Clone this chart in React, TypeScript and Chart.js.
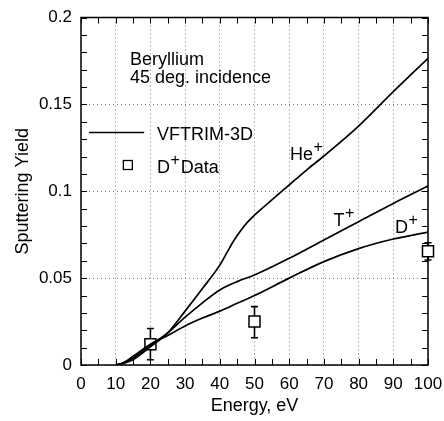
import React, { useEffect, useRef } from 'react';
import { Chart, registerables } from 'chart.js';
Chart.register(...registerables);

const energyHe = [10, 12, 15, 20, 25, 30, 35, 40, 42, 44, 46, 48, 50, 55, 60, 65, 70, 80, 90, 100];
const yieldHe = [0, 0.0008, 0.003, 0.0105, 0.0185, 0.031, 0.044, 0.0575, 0.0645, 0.0715, 0.0773, 0.0822, 0.0863, 0.095, 0.1036, 0.1122, 0.1203, 0.1375, 0.1573, 0.1765];
const energyT = [10, 12, 15, 20, 25, 30, 35, 40, 45, 50, 60, 70, 80, 90, 100];
const yieldT = [0, 0.001, 0.004, 0.0115, 0.0185, 0.0275, 0.0358, 0.0432, 0.048, 0.0518, 0.0614, 0.072, 0.0825, 0.093, 0.103];
const energyD = [10, 12, 15, 20, 25, 30, 35, 40, 45, 50, 60, 70, 80, 90, 100];
const yieldD = [0, 0.0012, 0.005, 0.012, 0.017, 0.0225, 0.027, 0.031, 0.0355, 0.040, 0.050, 0.0595, 0.067, 0.0725, 0.0765];
const dataEnergy = [20, 50, 100];
const dataYield = [0.012, 0.025, 0.0655];
const dataErrLow = [0.003, 0.0157, 0.0604];
const dataErrHigh = [0.021, 0.0336, 0.0704];

const xTickStep = 10;
const yTickStep = 0.05;
const xMinorStep = 5;
const yMinorStep = 0.01;

const FONT = "'Liberation Sans', Arial, Helvetica, sans-serif";

function pts(xs: number[], ys: number[]) {
  return xs.map((x, i) => ({ x, y: ys[i] }));
}

const framePlugin = {
  id: 'frameAndBars',
  beforeDatasetsDraw(chart: any) {
    const { ctx, chartArea: a, scales } = chart;
    const xs = scales.x, ys = scales.y;
    ctx.save();
    ctx.strokeStyle = '#000';
    ctx.lineWidth = 1.5;
    ctx.strokeRect(a.left, a.top, a.right - a.left, a.bottom - a.top);
    ctx.lineWidth = 1;
    const L = 6;
    ctx.beginPath();
    for (let v = 0; v <= 100 + 1e-9; v += xMinorStep) {
      const px = Math.round(xs.getPixelForValue(v)) + 0.5;
      ctx.moveTo(px, a.bottom); ctx.lineTo(px, a.bottom - L);
      ctx.moveTo(px, a.top); ctx.lineTo(px, a.top + L);
    }
    for (let i = 0; i <= 20; i++) {
      const v = i * yMinorStep;
      const py = Math.round(ys.getPixelForValue(v)) + 0.5;
      ctx.moveTo(a.left, py); ctx.lineTo(a.left + L, py);
      ctx.moveTo(a.right, py); ctx.lineTo(a.right - L, py);
    }
    ctx.stroke();
    ctx.lineWidth = 1.6;
    ctx.beginPath();
    dataEnergy.forEach((e, i) => {
      const px = xs.getPixelForValue(e);
      const lo = ys.getPixelForValue(dataErrLow[i]);
      const hi = ys.getPixelForValue(dataErrHigh[i]);
      ctx.moveTo(px, lo); ctx.lineTo(px, hi);
      ctx.moveTo(px - 3.5, lo); ctx.lineTo(px + 3.5, lo);
      ctx.moveTo(px - 3.5, hi); ctx.lineTo(px + 3.5, hi);
    });
    ctx.stroke();
    ctx.restore();
  },
  afterDraw(chart: any) {
    const { ctx, scales } = chart;
    const X = (v: number) => scales.x.getPixelForValue(v);
    const Y = (v: number) => scales.y.getPixelForValue(v);
    ctx.save();
    ctx.fillStyle = '#000';
    ctx.strokeStyle = '#000';
    ctx.textBaseline = 'alphabetic';
    ctx.textAlign = 'left';
    ctx.font = `18px ${FONT}`;
    ctx.fillText('Beryllium', X(14.1), Y(0.1727));
    ctx.fillText('45 deg. incidence', X(14.1), Y(0.1623));
    ctx.lineWidth = 1.6;
    ctx.beginPath();
    ctx.moveTo(X(2.3), Y(0.1338));
    ctx.lineTo(X(18.2), Y(0.1338));
    ctx.stroke();
    ctx.fillText('VFTRIM-3D', X(21.9), Y(0.1295));
    ctx.lineWidth = 1.3;
    ctx.fillStyle = '#fff';
    const sx = X(13.5), sy = Y(0.1151);
    ctx.fillRect(sx - 4.5, sy - 4.5, 9, 9);
    ctx.strokeRect(sx - 4.5, sy - 4.5, 9, 9);
    ctx.fillStyle = '#000';
    const sup = (base: string, x: number, y: number, after?: string) => {
      ctx.font = `18px ${FONT}`;
      ctx.fillText(base, x, y);
      const w = ctx.measureText(base).width;
      ctx.font = `16px ${FONT}`;
      ctx.fillText('+', x + w + 0.5, y - 8);
      const w2 = ctx.measureText('+').width;
      if (after) {
        ctx.font = `18px ${FONT}`;
        ctx.fillText(after, x + w + w2 + 1.5, y);
      }
    };
    sup('D', X(21.9), Y(0.1105), 'Data');
    sup('He', X(60.2), Y(0.118));
    sup('T', X(72.8), Y(0.0802));
    sup('D', X(90.5), Y(0.0761));
    ctx.restore();
  },
};

export default function App() {
  const ref = useRef<HTMLCanvasElement>(null);
  useEffect(() => {
    if (!ref.current) return;
    const lineStyle = {
      borderColor: '#000',
      borderWidth: 1.7,
      pointRadius: 0,
      fill: false,
      cubicInterpolationMode: 'monotone' as const,
    };
    const chart = new Chart(ref.current, {
      type: 'line',
      data: {
        datasets: [
          { label: 'He+', data: pts(energyHe, yieldHe), ...lineStyle },
          { label: 'T+', data: pts(energyT, yieldT), ...lineStyle },
          { label: 'D+', data: pts(energyD, yieldD), ...lineStyle },
          {
            label: 'D+ Data',
            data: pts(dataEnergy, dataYield),
            showLine: false,
            pointStyle: 'rect',
            pointRadius: 7.8,
            pointBackgroundColor: '#fff',
            pointBorderColor: '#000',
            pointBorderWidth: 1.5,
            clip: false,
          } as any,
        ],
      },
      options: {
        animation: false,
        responsive: false,
        layout: { padding: { top: 17.5, right: 16, left: 0, bottom: 0 } },
        plugins: { legend: { display: false }, tooltip: { enabled: false } },
        scales: {
          x: {
            type: 'linear',
            min: 0,
            max: 100,
            afterFit: (s: any) => { s.height = 56; s.paddingLeft = 0; s.paddingRight = 0; },
            ticks: {
              stepSize: xTickStep,
              padding: 9,
              color: '#000',
              font: { family: FONT, size: 17 },
              maxRotation: 0,
            },
            grid: { color: '#777', lineWidth: 1, drawTicks: false },
            border: { display: false, dash: [1, 3] },
            title: {
              display: true,
              text: 'Energy, eV',
              color: '#000',
              font: { family: FONT, size: 18 },
              padding: { top: 0, bottom: 4 },
            },
          },
          y: {
            type: 'linear',
            min: 0,
            max: 0.2,
            afterFit: (s: any) => { s.width = 81; s.paddingTop = 0; s.paddingBottom = 0; },
            ticks: {
              stepSize: yTickStep,
              padding: 9,
              color: '#000',
              font: { family: FONT, size: 17 },
              callback: (v: any) => String(Number(Number(v).toFixed(2))),
            },
            grid: { color: '#777', lineWidth: 1, drawTicks: false },
            border: { display: false, dash: [1, 3] },
            title: {
              display: true,
              text: 'Sputtering Yield',
              color: '#000',
              font: { family: FONT, size: 18 },
              padding: { top: 12, bottom: 0 },
            },
          },
        },
      },
      plugins: [framePlugin],
    });
    return () => chart.destroy();
  }, []);
  return (
    <div style={{ position: 'absolute', left: 0, top: 0, width: 444, height: 421, background: '#fff' }}>
      <canvas ref={ref} width={444} height={421} style={{ display: 'block' }} />
    </div>
  );
}
